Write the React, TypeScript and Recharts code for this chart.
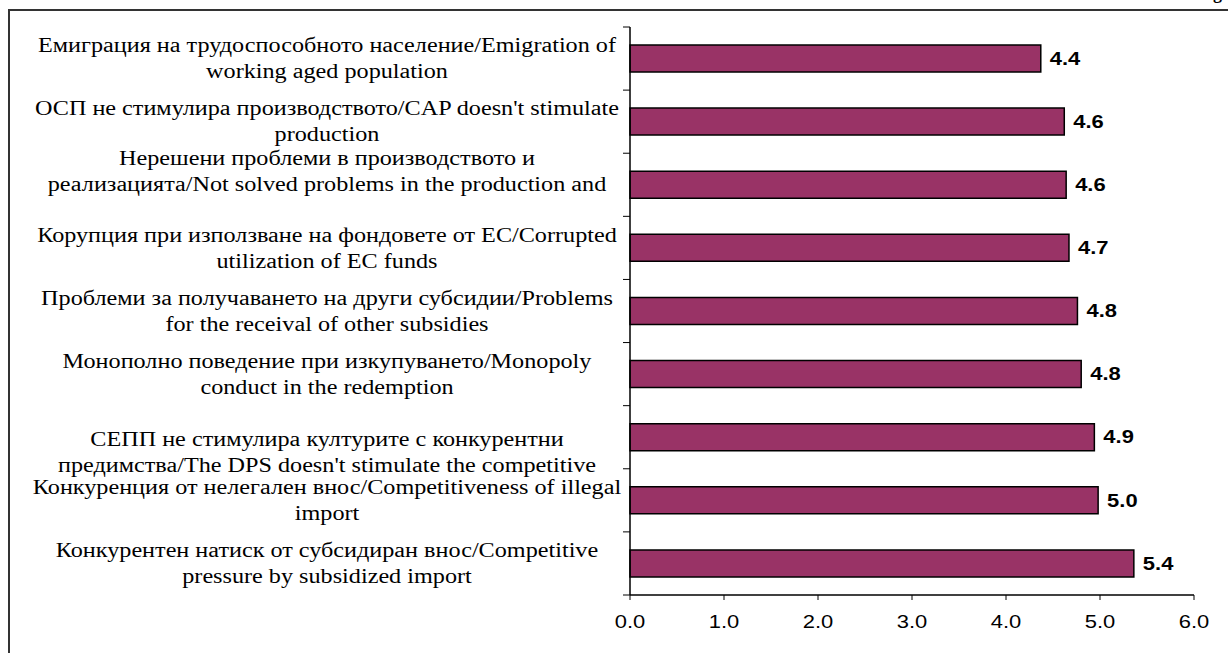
import React from "react";
import {
  BarChart,
  Bar,
  XAxis,
  YAxis,
  LabelList,
} from "recharts";

/* ========================================
   Data
========================================= */
const labelsTop = [
  "Емиграция на трудоспособното население/Emigration of",
  "ОСП не стимулира производството/CAP doesn't stimulate",
  "Нерешени проблеми в производството и",
  "Корупция при използване на фондовете от ЕС/Corrupted",
  "Проблеми за получаването на други субсидии/Problems",
  "Монополно поведение при изкупуването/Monopoly",
  "СЕПП не стимулира културите с конкурентни",
  "Конкуренция от нелегален внос/Competitiveness of illegal",
  "Конкурентен натиск от субсидиран внос/Competitive",
];

const labelsBottom = [
  "working aged population",
  "production",
  "реализацията/Not solved problems in the production and",
  "utilization of EC funds",
  "for the receival of other subsidies",
  "conduct in the redemption",
  "предимства/The DPS doesn't stimulate the competitive",
  "import",
  "pressure by subsidized import",
];

const scores = [4.37, 4.62, 4.64, 4.67, 4.76, 4.8, 4.94, 4.98, 5.36];

const xTicks = [0, 1, 2, 3, 4, 5, 6];

const data = scores.map((v, i) => ({
  name: labelsTop[i] + "\n" + labelsBottom[i],
  value: v,
}));

/* ========================================
   Layout
========================================= */
const W = 1228;
const H = 653;
const PLOT_TOP = 27;
const PLOT_BOTTOM = 595;
const PLOT_LEFT = 630;
const PLOT_RIGHT = 1194;
const BAND = (PLOT_BOTTOM - PLOT_TOP) / scores.length;
const LABEL_CX = 327;
// the original picture is stretched sideways
const SERIF_STRETCH = 1.21;
const SANS_STRETCH = 1.22;
// first line offset from band centre (some labels lost a wrapped line)
const lineShift = [-13, -13, -27, -13, -13, -13, 2, -13, -13];

const CategoryTick = (props: any) => {
  const { y, payload, index } = props;
  const lines = String(payload.value).split("\n");
  const shift = lineShift[index] ?? -13;
  return (
    <g>
      <line x1={PLOT_LEFT - 7} x2={PLOT_LEFT} y1={y - BAND / 2} y2={y - BAND / 2} stroke="#000" />
      {index === scores.length - 1 && (
        <line x1={PLOT_LEFT - 7} x2={PLOT_LEFT} y1={y + BAND / 2} y2={y + BAND / 2} stroke="#000" />
      )}
      {lines.map((ln, i) => (
        <g key={i} transform={`translate(${LABEL_CX},${y + shift + i * 26}) scale(${SERIF_STRETCH},1)`}>
          <text
            x={0}
            y={0}
            textAnchor="middle"
            dominantBaseline="central"
            fontFamily="'Liberation Serif', 'Times New Roman', serif"
            fontSize={20}
            fill="#000"
          >
            {ln}
          </text>
        </g>
      ))}
    </g>
  );
};

const ValueTick = (props: any) => {
  const { x, payload } = props;
  return (
    <g transform={`translate(${x},${PLOT_BOTTOM + 27}) scale(${SANS_STRETCH},1)`}>
      <text
        x={0}
        y={0}
        textAnchor="middle"
        dominantBaseline="central"
        fontFamily="'Liberation Sans', Arial, sans-serif"
        fontSize={18}
        fill="#000"
      >
        {Number(payload.value).toFixed(1)}
      </text>
    </g>
  );
};

const BarValue = (props: any) => {
  const { x, y, width, height, value } = props;
  return (
    <g transform={`translate(${x + width + 9},${y + height / 2}) scale(${SANS_STRETCH},1)`}>
      <text
        x={0}
        y={0}
        dominantBaseline="central"
        fontFamily="'Liberation Sans', Arial, sans-serif"
        fontWeight="bold"
        fontSize={18}
        fill="#000"
      >
        {Number(value).toFixed(1)}
      </text>
    </g>
  );
};

export default function App() {
  return (
    <div
      style={{
        position: "absolute",
        left: 0,
        top: 0,
        width: W,
        height: H,
        background: "#fff",
        overflow: "hidden",
      }}
    >
      {/* outer frame of the figure */}
      <div
        style={{
          position: "absolute",
          left: 8,
          top: 9,
          width: W,
          height: H,
          borderLeft: "2px solid #333",
          borderTop: "2px solid #333",
        }}
      />
      <div
        style={{
          position: "absolute",
          right: 6,
          top: -17,
          lineHeight: "20px",
          fontFamily: "'Liberation Serif', serif",
          fontWeight: "bold",
          fontSize: 18,
        }}
      >
        Fig
      </div>
      <div style={{ position: "absolute", left: 0, top: 0 }}>
        <BarChart
          width={W}
          height={H}
          data={data}
          layout="vertical"
          margin={{ top: PLOT_TOP, right: W - PLOT_RIGHT, bottom: 0, left: 0 }}
          barSize={27}
        >
          <XAxis
            type="number"
            domain={[0, 6]}
            ticks={xTicks}
            height={H - PLOT_BOTTOM}
            axisLine={{ stroke: "#000", strokeWidth: 1.5 }}
            tickLine={{ stroke: "#000" }}
            tickSize={5}
            tick={<ValueTick />}
            interval={0}
          />
          <XAxis
            xAxisId="top"
            orientation="top"
            type="number"
            domain={[0, 6]}
            height={0}
            tick={false}
            tickLine={false}
            axisLine={{ stroke: "#888" }}
          />
          <YAxis
            type="category"
            dataKey="name"
            width={PLOT_LEFT}
            axisLine={{ stroke: "#000", strokeWidth: 1.5 }}
            tickLine={false}
            tick={<CategoryTick />}
            interval={0}
          />
          <YAxis
            yAxisId="right"
            orientation="right"
            type="category"
            dataKey="name"
            width={0}
            tick={false}
            tickLine={false}
            axisLine={{ stroke: "#888" }}
          />
          <Bar
            dataKey="value"
            fill="#993366"
            stroke="#000"
            strokeWidth={1.5}
            isAnimationActive={false}
          >
            <LabelList dataKey="value" content={<BarValue />} />
          </Bar>
        </BarChart>
      </div>
    </div>
  );
}
